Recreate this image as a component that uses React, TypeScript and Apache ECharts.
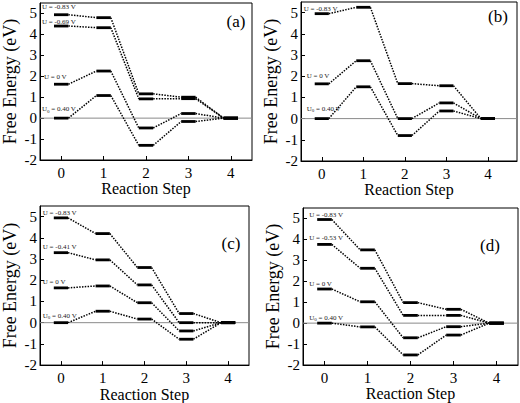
import React, { useEffect, useRef } from "react";
import * as echarts from "echarts";

// ---- data ----
const X_STEPS = [0, 1, 2, 3, 4];
const Y_TICKS = [-2, -1, 0, 1, 2, 3, 4, 5];
const ZERO_LEVEL = [0];

// panel (a)
const A_U083 = [4.94, 4.8, 1.16, 1.0, 0];
const A_U069 = [4.4, 4.32, 0.92, 0.93, 0];
const A_U0 = [1.62, 2.25, -0.47, 0.22, 0];
const A_UL = [0, 1.08, -1.3, -0.16, 0];
const A_LABELS = ["U = -0.83 V", "U = -0.69 V", "U = 0 V", "U0 = 0.40 V"];

// panel (b)
const B_U083 = [4.95, 5.25, 1.65, 1.55, 0];
const B_U0 = [1.64, 2.73, 0, 0.74, 0];
const B_UL = [0, 1.5, -0.8, 0.36, 0];
const B_LABELS = ["U = -0.83 V", "U = 0 V", "U0 = 0.40 V"];

// panel (c)
const C_U083 = [4.94, 4.2, 2.6, 0.43, 0];
const C_U041 = [3.3, 2.96, 1.78, 0, 0];
const C_U0 = [1.64, 1.73, 0.94, -0.39, 0];
const C_UL = [0, 0.54, 0.17, -0.78, 0];
const C_LABELS = ["U = -0.83 V", "U = -0.41 V", "U = 0 V", "U0 = 0.40 V"];

// panel (d)
const D_U083 = [4.95, 3.5, 0.98, 0.66, 0];
const D_U053 = [3.76, 2.62, 0.37, 0.37, 0];
const D_U0 = [1.63, 1.02, -0.7, -0.17, 0];
const D_UL = [0, -0.18, -1.52, -0.57, 0];
const D_LABELS = ["U = -0.83 V", "U = -0.53 V", "U = 0 V", "U0 = 0.40 V"];

const PANEL_TAGS = ["(a)", "(b)", "(c)", "(d)"];

// ---- layout / style ----
const FONT = "Liberation Serif";
const HALF = 0.17;

const PANELS = [
  {
    curves: [A_U083, A_U069, A_U0, A_UL],
    labels: A_LABELS,
    grid: { left: 39, top: 3, width: 213, height: 157 },
    xMax: 4.5,
    labelDx: [-12, -12, -10, -12],
    labelDy: [-8, -4, -7, -9],
    tagPos: [236, 21],
  },
  {
    curves: [B_U083, B_U0, B_UL],
    labels: B_LABELS,
    grid: { left: 301, top: 2, width: 216, height: 159 },
    xMax: 4.7,
    labelDx: [-11, -8, -8],
    labelDy: [-5, -8, -10],
    tagPos: [498, 16],
  },
  {
    curves: [C_U083, C_U041, C_U0, C_UL],
    labels: C_LABELS,
    grid: { left: 38, top: 206, width: 211, height: 160 },
    xMax: 4.5,
    labelDx: [-11, -11, -11, -11],
    labelDy: [-5, -6, -6, -7],
    tagPos: [231, 243],
  },
  {
    curves: [D_U083, D_U053, D_U0, D_UL],
    labels: D_LABELS,
    grid: { left: 303, top: 208, width: 215, height: 157 },
    xMax: 4.5,
    labelDx: [-8, -8, -8, -8],
    labelDy: [-5, -6, -5.5, -5.5],
    tagPos: [490, 245],
  },
];

function labelRich(text: string) {
  if (text.startsWith("U0")) {
    return "{a|U}{s|0}{a|" + text.slice(2) + "}";
  }
  return "{a|" + text + "}";
}

export default function App() {
  const ref = useRef<HTMLDivElement>(null);

  useEffect(() => {
    if (!ref.current) return;
    const chart = echarts.init(ref.current, null, { renderer: "svg" });

    const grids: any[] = [];
    const xAxes: any[] = [];
    const yAxes: any[] = [];
    const series: any[] = [];
    const graphics: any[] = [];

    PANELS.forEach((p, pi) => {
      grids.push({
        ...p.grid,
        show: true,
        borderColor: "#000",
        borderWidth: 1,
        backgroundColor: "transparent",
        containLabel: false,
      });
      xAxes.push({
        gridIndex: pi,
        type: "value",
        min: -0.5,
        max: p.xMax,
        axisLine: { show: true, onZero: false, lineStyle: { color: "#000", width: 1 } },
        axisTick: {
          show: true,
          inside: true,
          length: 4,
          customValues: X_STEPS,
          lineStyle: { color: "#000" },
        },
        axisLabel: {
          customValues: X_STEPS,
          fontSize: 15,
          fontFamily: FONT,
          fontWeight: "normal",
          color: "#000",
          margin: 5,
        },
        splitLine: { show: false },
        name: "Reaction Step",
        nameLocation: "middle",
        nameGap: 20,
        nameTextStyle: { fontSize: 16, fontFamily: FONT, fontWeight: "normal", color: "#000" },
      });
      yAxes.push({
        gridIndex: pi,
        type: "value",
        min: -2,
        max: 5.5,
        axisLine: { show: true, onZero: false, lineStyle: { color: "#000", width: 1 } },
        axisTick: {
          show: true,
          inside: true,
          length: 4,
          customValues: Y_TICKS,
          lineStyle: { color: "#000" },
        },
        axisLabel: {
          customValues: Y_TICKS,
          fontSize: 15,
          fontFamily: FONT,
          fontWeight: "normal",
          color: "#000",
          margin: 3,
        },
        splitLine: { show: false },
        name: "Free Energy (eV)",
        nameLocation: "middle",
        nameGap: 21,
        nameTextStyle: { fontSize: 18, fontFamily: FONT, fontWeight: "normal", color: "#000" },
      });

      // zero reference line
      series.push({
        type: "custom",
        xAxisIndex: pi,
        yAxisIndex: pi,
        z: 1,
        silent: true,
        clip: false,
        data: ZERO_LEVEL.map((v) => [0, v]),
        renderItem: (params: any, api: any) => {
          const cs = params.coordSys;
          const pt = api.coord([0, api.value(1)]);
          return {
            type: "line",
            shape: { x1: cs.x, y1: pt[1], x2: cs.x + cs.width, y2: pt[1] },
            style: { stroke: "#8a8a8a", lineWidth: 1 },
          };
        },
      });

      p.curves.forEach((curve, ci) => {
        const data = curve.map((v, i) => [
          X_STEPS[i],
          v,
          i < curve.length - 1 ? curve[i + 1] : "-",
        ]);
        const label = p.labels[ci];
        const dx = p.labelDx[ci];
        const dy = p.labelDy[ci];
        series.push({
          type: "custom",
          xAxisIndex: pi,
          yAxisIndex: pi,
          z: 3,
          silent: true,
          clip: false,
          data,
          renderItem: (params: any, api: any) => {
            const x = api.value(0);
            const y = api.value(1);
            const next = api.value(2);
            const p1 = api.coord([x - HALF, y]);
            const p2 = api.coord([x + HALF, y]);
            const children: any[] = [
              {
                type: "line",
                shape: { x1: p1[0], y1: p1[1], x2: p2[0], y2: p2[1] },
                style: { stroke: "#000", lineWidth: 2.8 },
              },
            ];
            if (!isNaN(next)) {
              const p3 = api.coord([x + 1 - HALF, next]);
              children.push({
                type: "line",
                shape: { x1: p2[0], y1: p2[1], x2: p3[0], y2: p3[1] },
                style: {
                  stroke: "#000",
                  lineWidth: 1.5,
                  lineDash: [1.5, 1.3],
                },
              });
            }
            if (params.dataIndex === 0) {
              children.push({
                type: "text",
                x: p1[0] + dx,
                y: p1[1] + dy,
                style: {
                  text: labelRich(label),
                  align: "left",
                  verticalAlign: "middle",
                  rich: {
                    a: { fontSize: 7, fontFamily: FONT, fill: "#222" },
                    s: {
                      fontSize: 5,
                      fontFamily: FONT,
                      fill: "#222",
                      verticalAlign: "bottom",
                      padding: [4, 0, 0, 0],
                    },
                  },
                },
              });
            }
            return { type: "group", children };
          },
        });
      });

      graphics.push({
        type: "text",
        x: p.tagPos[0],
        y: p.tagPos[1],
        style: {
          text: PANEL_TAGS[pi],
          fontSize: 17,
          fontFamily: FONT,
          fill: "#000",
          align: "center",
          verticalAlign: "middle",
        },
      });
    });

    chart.setOption({
      animation: false,
      backgroundColor: "#fff",
      textStyle: { fontFamily: FONT, fontWeight: "normal" },
      grid: grids,
      xAxis: xAxes,
      yAxis: yAxes,
      series,
      graphic: graphics,
    });

    return () => chart.dispose();
  }, []);

  return (
    <div
      ref={ref}
      style={{
        position: "fixed",
        left: 0,
        top: 0,
        width: 520,
        height: 403,
        background: "#fff",
      }}
    />
  );
}
